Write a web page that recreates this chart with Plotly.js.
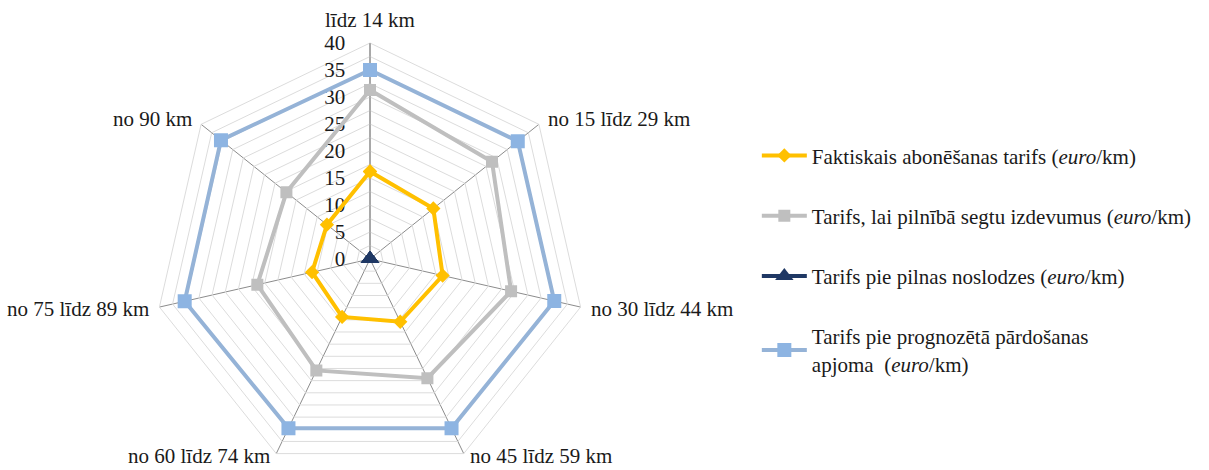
<!DOCTYPE html>
<html>
<head>
<meta charset="utf-8">
<script src="https://cdn.plot.ly/plotly-3.0.1.min.js"></script>
<style>
  html, body { margin: 0; padding: 0; overflow: hidden; background: #fff; }
  #chart { width: 1209px; height: 490px; }
</style>
</head>
<body>
<div id="chart"></div>
<script>
// Distance bands (clockwise from the top)
const categories = ['līdz 14 km', 'no 15 līdz 29 km', 'no 30 līdz 44 km', 'no 45 līdz 59 km',
                    'no 60 līdz 74 km', 'no 75 līdz 89 km', 'no 90 km'];

// Tariffs, euro/km
const actualTariff   = [16.2, 15.0, 13.8, 12.9, 11.9, 11.0, 10.2];
const fullCostTariff = [31.3, 28.9, 26.8, 24.5, 22.9, 21.4, 19.8];
const fullLoadTariff = [0, 0, 0, 0, 0, 0, 0];
const forecastTariff = [35.0, 35.0, 35.0, 34.8, 34.8, 35.2, 35.3];

// Radial grid every 2.5, labels every 5
const radialTicks = [0, 2.5, 5, 7.5, 10, 12.5, 15, 17.5, 20, 22.5, 25, 27.5, 30, 32.5, 35, 37.5, 40];
const radialTickLabels = ['0', '', '5', '', '10', '', '15', '', '20', '', '25', '', '30', '', '35', '', '40'];

const seriesNames = [
  'Faktiskais abonēšanas tarifs (<i>euro</i>/km)',
  'Tarifs, lai pilnībā segtu izdevumus (<i>euro</i>/km)',
  'Tarifs pie pilnas noslodzes (<i>euro</i>/km)',
  'Tarifs pie prognozētā pārdošanas<br>apjoma  (<i>euro</i>/km)'
];

const FONT = 'Liberation Serif';
const TEXT = '#1a1a1a';

// close each polygon by repeating the first point
const closed = arr => arr.concat([arr[0]]);
const theta = closed(categories);

function series(values, name, lineColor, markerColor, symbol, size, group) {
  return {
    type: 'scatterpolar',
    mode: 'lines+markers',
    r: closed(values),
    theta: theta,
    name: name,
    legendgroup: group,
    cliponaxis: true,
    line: { color: lineColor, width: 4 },
    marker: { color: markerColor, symbol: symbol, size: size },
    hoverinfo: 'skip'
  };
}

const traces = [
  series(actualTariff,   seriesNames[0], '#FFC000', '#FFC000', 'diamond', 11, 'a'),
  series(fullCostTariff, seriesNames[1], '#BFBFBF', '#BFBFBF', 'square', 12, 'b'),
  series(fullLoadTariff, seriesNames[2], '#1F3864', '#1F3864', 'triangle-up', 16, 'c'),
  series(forecastTariff, seriesNames[3], '#95B3D7', '#8DB4E2', 'square', 14, 'd')
];

// page geometry of the polar area (centre and outer radius, px)
const W = 1209, H = 490;
const cx = 370, cy = 259, R = 216;

// category labels set just outside each outer vertex
const step = 360 / categories.length;
const labelGap = 9;
const categoryLabels = categories.map((name, i) => {
  const a = i * step * Math.PI / 180;
  const s = Math.sin(a), c = Math.cos(a);
  const px = cx + (R + labelGap) * s;
  let py = cy - (R + labelGap) * c;
  let yanchor = 'middle';
  if (c > 0.95) yanchor = 'bottom';
  if (c < -0.5) { yanchor = 'bottom'; py = cy - R * c + 16; }
  return {
    text: name,
    xref: 'paper', yref: 'paper',
    x: px / W, y: (H - py) / H,
    xanchor: Math.abs(s) < 0.1 ? 'center' : (s > 0 ? 'left' : 'right'),
    yanchor: yanchor,
    showarrow: false,
    font: { family: FONT, size: 21, color: TEXT }
  };
});

const layout = {
  width: W,
  height: H,
  margin: { l: 0, r: 0, t: 0, b: 0 },
  paper_bgcolor: '#ffffff',
  font: { family: FONT, size: 21, color: TEXT },
  showlegend: true,
  legend: {
    x: 0.626, y: 0.724, xanchor: 'left', yanchor: 'top',
    traceorder: 'grouped',
    tracegroupgap: 30,
    font: { family: FONT, size: 21, color: TEXT },
    itemwidth: 45,
    bgcolor: 'rgba(0,0,0,0)'
  },
  annotations: categoryLabels,
  polar: {
    domain: {
      x: [(cx - R) / W, (cx + R) / W],
      y: [(H - cy - R) / H, (H - cy + R) / H]
    },
    gridshape: 'linear',
    bgcolor: '#ffffff',
    radialaxis: {
      range: [0, 40],
      angle: 90,
      side: 'counterclockwise',
      layer: 'below traces',
      tickmode: 'array',
      tickvals: radialTicks,
      ticktext: radialTickLabels,
      tickangle: 90,
      ticks: 'outside',
      ticklen: 17,
      tickcolor: 'rgba(0,0,0,0)',
      showline: true,
      linecolor: '#8c8c8c',
      linewidth: 1,
      gridcolor: '#dcdcdc',
      gridwidth: 1,
      tickfont: { family: FONT, size: 21, color: TEXT }
    },
    angularaxis: {
      type: 'category',
      direction: 'clockwise',
      rotation: 90,
      layer: 'below traces',
      ticks: '',
      showticklabels: false,
      showline: true,
      linecolor: '#dcdcdc',
      linewidth: 1,
      gridcolor: '#8c8c8c',
      gridwidth: 1
    }
  }
};

Plotly.newPlot('chart', traces, layout, { staticPlot: true, displayModeBar: false });
</script>
</body>
</html>
